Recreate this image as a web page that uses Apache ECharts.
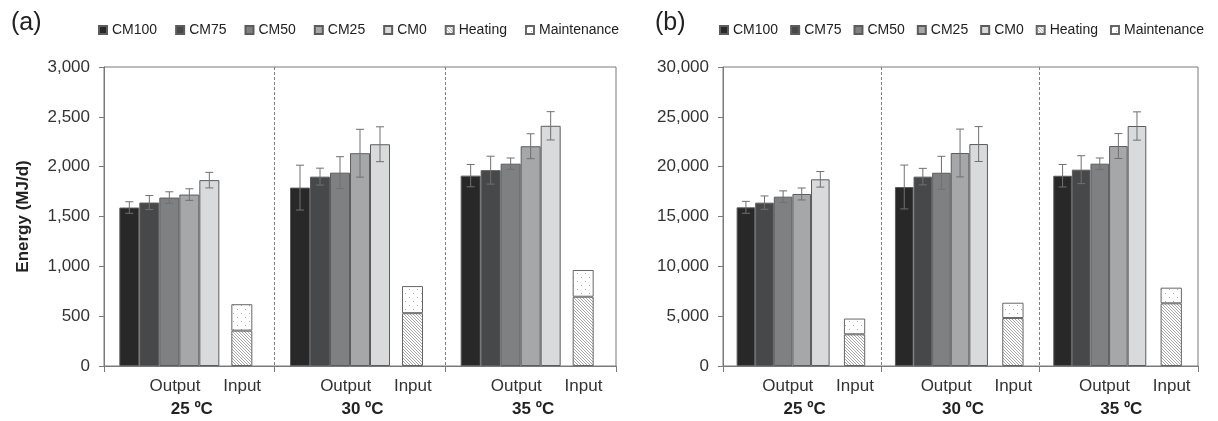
<!DOCTYPE html>
<html><head><meta charset="utf-8">
<script src="https://cdn.jsdelivr.net/npm/echarts@6/dist/echarts.min.js"></script>
<style>html,body{margin:0;padding:0;background:#fff}#c{width:1218px;height:421px}</style>
</head><body><div id="c"></div>
<script>
const FONT = '"Liberation Sans", Arial, sans-serif';
const groups = ['25 ºC', '30 ºC', '35 ºC'];
const cmNames = ['CM100', 'CM75', 'CM50', 'CM25', 'CM0'];
const inputNames = ['Heating', 'Maintenance'];

// ---- Panel (a) values (MJ/d) ----
const aCM100 = [1590, 1790, 1910];
const aCM75  = [1640, 1900, 1965];
const aCM50  = [1690, 1940, 2030];
const aCM25  = [1720, 2135, 2205];
const aCM0   = [1865, 2225, 2410];
const aErrCM100 = [58, 225, 112];
const aErrCM75  = [70, 85, 140];
const aErrCM50  = [58, 160, 57];
const aErrCM25  = [58, 240, 125];
const aErrCM0   = [78, 175, 142];
const aHeating     = [355, 530, 695];
const aMaintenance = [265, 272, 268];
const aTicks = [0, 500, 1000, 1500, 2000, 2500, 3000];

// ---- Panel (b) values (MJ/d) ----
const bCM100 = [15920, 17960, 19090];
const bCM75  = [16390, 19000, 19700];
const bCM50  = [16990, 19390, 20300];
const bCM25  = [17260, 21370, 22070];
const bCM0   = [18730, 22270, 24080];
const bErrCM100 = [600, 2200, 1130];
const bErrCM75  = [670, 830, 1400];
const bErrCM50  = [580, 1650, 570];
const bErrCM25  = [600, 2400, 1250];
const bErrCM0   = [780, 1750, 1420];
const bHeating     = [3180, 4810, 6290];
const bMaintenance = [1580, 1540, 1570];
const bTicks = [0, 5000, 10000, 15000, 20000, 25000, 30000];

const cmColors = ['#282828', '#47484a', '#7f8082', '#a6a7a9', '#d9dadc'];

function hatchPattern() {
  const c = document.createElement('canvas'); c.width = 3; c.height = 3;
  const x = c.getContext('2d');
  x.fillStyle = '#ffffff'; x.fillRect(0, 0, 3, 3);
  x.fillStyle = '#a9a9a9';
  for (let i = 0; i < 3; i++) x.fillRect(i, i, 1, 1);
  return { image: c, repeat: 'repeat' };
}
function dotPattern() {
  const c = document.createElement('canvas'); c.width = 8; c.height = 8;
  const x = c.getContext('2d');
  x.fillStyle = '#ffffff'; x.fillRect(0, 0, 8, 8);
  x.fillStyle = '#a8a8a8';
  x.fillRect(1, 1, 1, 1); x.fillRect(5, 5, 1, 1);
  return { image: c, repeat: 'repeat' };
}
const HATCH = hatchPattern();
const DOTS = dotPattern();

const layouts = [
  { left: 104, right: 602, cmW: 20, gap1: 12, inW: 21, gap2: 7, legendLeft: 98, legendGap: 18 },
  { left: 723, right: 20, cmW: 18.6, gap1: 14.3, inW: 21.3, gap2: 2.5, legendLeft: 719, legendGap: 12 }
];

const panels = [
  { cm: [aCM100, aCM75, aCM50, aCM25, aCM0], err: [aErrCM100, aErrCM75, aErrCM50, aErrCM25, aErrCM0],
    heat: aHeating, maint: aMaintenance, ticks: aTicks, yName: 'Energy (MJ/d)' },
  { cm: [bCM100, bCM75, bCM50, bCM25, bCM0], err: [bErrCM100, bErrCM75, bErrCM50, bErrCM25, bErrCM0],
    heat: bHeating, maint: bMaintenance, ticks: bTicks, yName: '' }
];

const grid = [], xAxis = [], yAxis = [], series = [], legend = [];
const axisColor = '#7a7a7a';

panels.forEach((P, i) => {
  const L = layouts[i];
  grid.push({ left: L.left, right: L.right, top: 67, bottom: 55, show: true,
    borderColor: axisColor, borderWidth: 1, backgroundColor: 'transparent' });
  xAxis.push({
    gridIndex: i, type: 'category', data: groups, boundaryGap: true,
    axisLine: { lineStyle: { color: axisColor } },
    axisTick: { show: true, length: 6, interval: 0, lineStyle: { color: axisColor } },
    splitLine: { show: true, interval: 0, showMinLine: false, showMaxLine: false,
      lineStyle: { color: '#808080', type: [3, 2], width: 1 } },
    axisLabel: {
      interval: 0, margin: 9, color: '#333', fontFamily: FONT,
      formatter: v => '{sp| }{o|Output}{i|Input}\n{t|' + v + '}',
      rich: {
        sp: { width: 45.7, align: 'center', fontSize: 17, lineHeight: 23, fontFamily: FONT },
        o: { width: 60, align: 'center', fontSize: 17, lineHeight: 23, color: '#333', fontFamily: FONT },
        i: { width: 74.4, align: 'center', fontSize: 17, lineHeight: 23, color: '#333', fontFamily: FONT },
        t: { align: 'center', fontSize: 17, lineHeight: 23, fontWeight: 'bold', color: '#222',
             padding: [0, 0, 0, 5], fontFamily: FONT }
      }
    }
  });
  yAxis.push({
    gridIndex: i, type: 'value',
    min: P.ticks[0], max: P.ticks[P.ticks.length - 1], interval: P.ticks[1] - P.ticks[0],
    axisLine: { show: true, lineStyle: { color: axisColor } },
    axisTick: { show: true, length: 5, lineStyle: { color: axisColor } },
    splitLine: { show: false },
    axisLabel: { margin: 14, fontSize: 17, color: '#333', fontFamily: FONT,
      formatter: v => v.toLocaleString('en-US') },
    name: P.yName, nameLocation: 'middle', nameGap: 72,
    nameTextStyle: { fontSize: 17, fontWeight: 'bold', color: '#222', fontFamily: FONT }
  });

  P.cm.forEach((vals, k) => {
    series.push({
      type: 'bar', name: cmNames[k], xAxisIndex: i, yAxisIndex: i,
      barWidth: L.cmW, barGap: 0, data: vals, animation: false,
      itemStyle: { color: cmColors[k], borderColor: '#5c5c5c', borderWidth: 1 },
      emphasis: { disabled: true }
    });
  });
  series.push({ type: 'bar', name: '_gapA' + i, xAxisIndex: i, yAxisIndex: i,
    barWidth: L.gap1, barGap: 0, data: [], silent: true });
  series.push({
    type: 'bar', name: inputNames[0], xAxisIndex: i, yAxisIndex: i, stack: 'input' + i,
    barWidth: L.inW, barGap: 0, data: P.heat, animation: false,
    itemStyle: { color: HATCH, borderColor: '#666', borderWidth: 1 }, emphasis: { disabled: true }
  });
  series.push({
    type: 'bar', name: inputNames[1], xAxisIndex: i, yAxisIndex: i, stack: 'input' + i,
    barWidth: L.inW, barGap: 0, data: P.maint, animation: false,
    itemStyle: { color: DOTS, borderColor: '#666', borderWidth: 1 }, emphasis: { disabled: true }
  });
  series.push({ type: 'bar', name: '_gapB' + i, xAxisIndex: i, yAxisIndex: i,
    barWidth: L.gap2, barGap: 0, data: [], silent: true });

  const errData = [];
  P.cm.forEach((vals, k) => vals.forEach((v, j) => errData.push([j, v, P.err[k][j], k])));
  series.push({
    type: 'custom', name: '_err' + i, xAxisIndex: i, yAxisIndex: i, z: 5, animation: false,
    encode: { x: 0, y: 1 }, data: errData, silent: true,
    renderItem: (params, api) => {
      const j = api.value(0), v = api.value(1), e = api.value(2), k = api.value(3);
      const total = 5 * L.cmW + L.gap1 + L.inW + L.gap2;
      const x = api.coord([j, v])[0] - total / 2 + (k + 0.5) * L.cmW;
      const yT = api.coord([j, v + e])[1], yB = api.coord([j, v - e])[1];
      const cap = 4, st = { stroke: '#707070', lineWidth: 1 };
      return { type: 'group', children: [
        { type: 'line', shape: { x1: x, y1: yT, x2: x, y2: yB }, style: st },
        { type: 'line', shape: { x1: x - cap, y1: yT, x2: x + cap, y2: yT }, style: st },
        { type: 'line', shape: { x1: x - cap, y1: yB, x2: x + cap, y2: yB }, style: st }
      ] };
    }
  });

  legend.push({
    left: L.legendLeft, top: 23, width: 600, itemWidth: 8, itemHeight: 8, itemGap: L.legendGap,
    icon: 'rect', selectedMode: false, padding: 0,
    data: cmNames.concat(inputNames),
    textStyle: { fontSize: 14, color: '#222', fontFamily: FONT }
  });
});

const option = {
  backgroundColor: '#ffffff',
  animation: false,
  textStyle: { fontFamily: FONT },
  title: [
    { text: '(a)', left: 6, top: 6, textStyle: { fontSize: 25, fontWeight: 'normal', color: '#222', fontFamily: FONT } },
    { text: '(b)', left: 650, top: 6, textStyle: { fontSize: 25, fontWeight: 'normal', color: '#222', fontFamily: FONT } }
  ],
  legend, grid, xAxis, yAxis, series
};
const chart = echarts.init(document.getElementById('c'), null, { renderer: 'canvas' });
chart.setOption(option);
</script>
</body></html>
